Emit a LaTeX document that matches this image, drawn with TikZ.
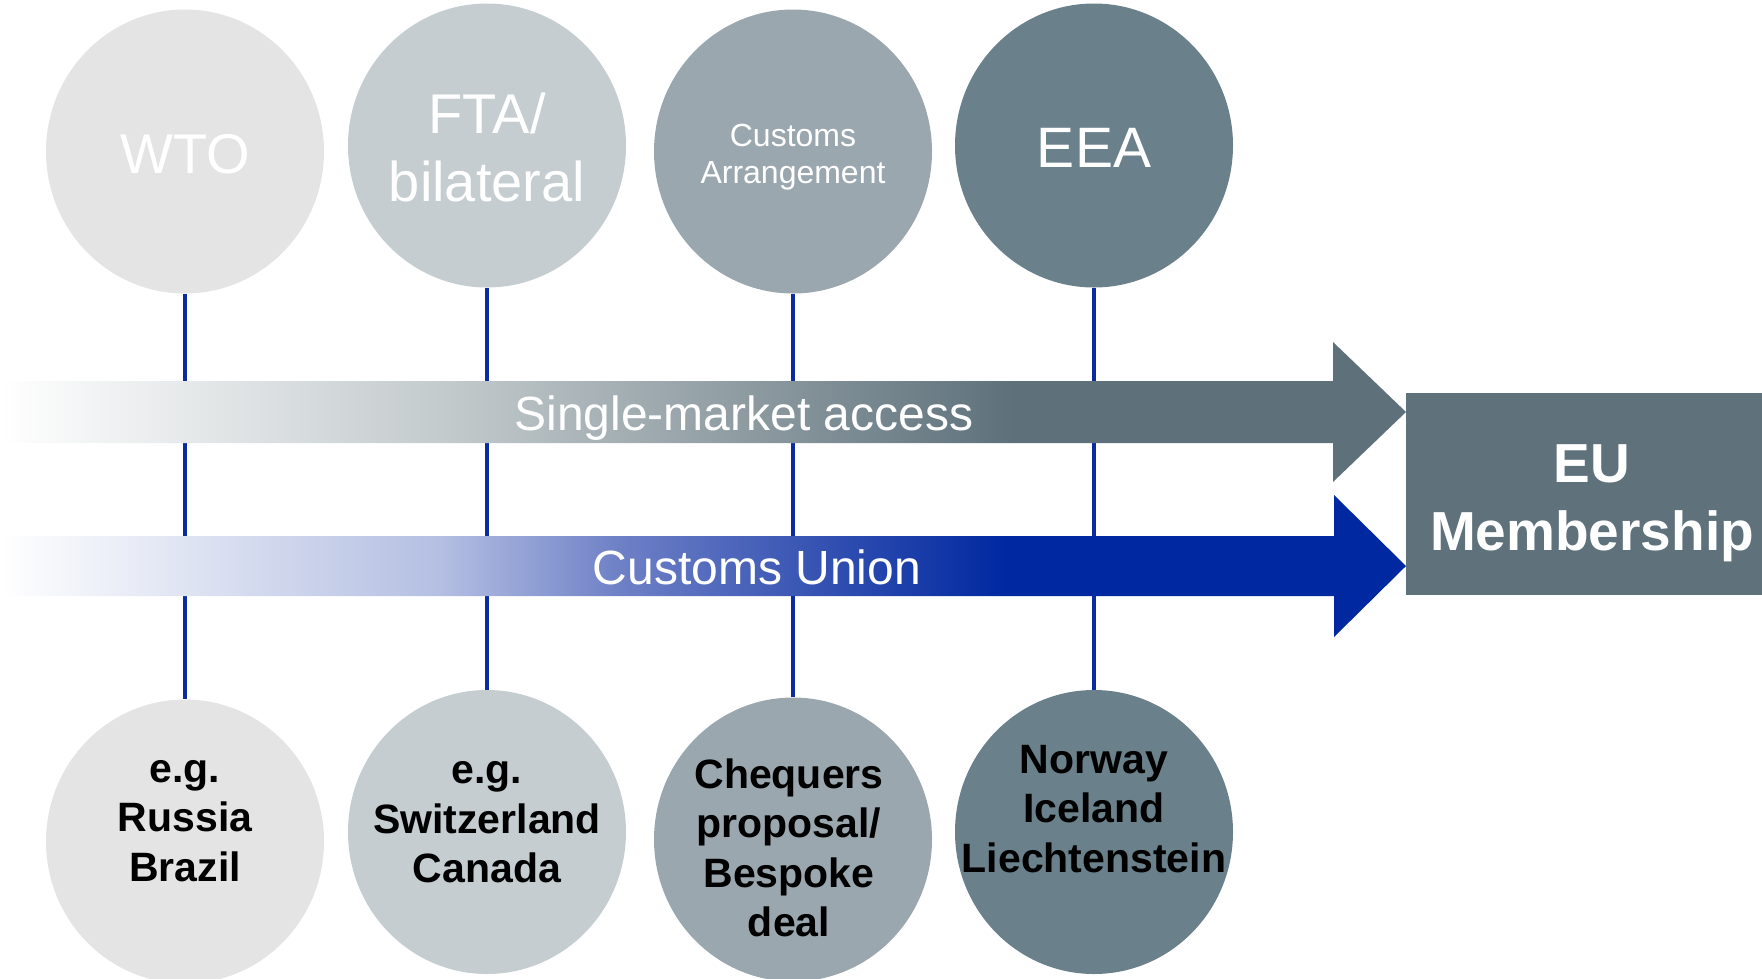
\documentclass[tikz,border=0pt]{standalone}
\usepackage{fontspec}
\setmainfont{Liberation Sans}
\usetikzlibrary{shapes.geometric}
\definecolor{cA}{HTML}{E4E4E4}
\definecolor{cB}{HTML}{C5CDD1}
\definecolor{cC}{HTML}{9BA7AE}
\definecolor{cD}{HTML}{6A808A}
\definecolor{cEU}{HTML}{5F727C}
\definecolor{smdark}{HTML}{5E717B}
\definecolor{smmid}{HTML}{C4CBCD}
\definecolor{cublue}{HTML}{0028A0}
\definecolor{cumidA}{HTML}{B4BFE2}
\definecolor{cumidB}{HTML}{6E80C6}
\definecolor{linkblue}{HTML}{0A2CA0}
\pgfdeclarehorizontalshading{smshade}{100bp}{color(0bp)=(white); color(25bp)=(white); color(40.65bp)=(smmid); color(61bp)=(smdark); color(100bp)=(smdark)}
\pgfdeclarehorizontalshading{cushade}{100bp}{color(0bp)=(white); color(25bp)=(white); color(40.65bp)=(cumidA); color(47.05bp)=(cumidB); color(60.74bp)=(cublue); color(100bp)=(cublue)}
\begin{document}
\begin{tikzpicture}[x=1pt,y=-1pt,
  bubble/.style={ellipse, minimum width=278pt, minimum height=284pt, inner sep=0pt},
  link/.style={draw=linkblue, line width=4.5pt},
  toptxt/.style={text=white, inner sep=0pt, align=center},
  bottxt/.style={text=black, inner sep=0pt, align=center, anchor=north, font=\fontsize{41}{49.5}\selectfont\bfseries},
  bartxt/.style={text=white, inner sep=0pt, anchor=base, font=\fontsize{48}{58}\selectfont}]
\useasboundingbox (0,0) rectangle (1762,978);
% top bubbles
\node[bubble, fill=cA] (t1) at (185,151.5) {};
\node[bubble, fill=cB] (t2) at (487,145.5) {};
\node[bubble, fill=cC] (t3) at (793,151.5) {};
\node[bubble, fill=cD] (t4) at (1094,145.5) {};
% bottom bubbles
\node[bubble, fill=cA] (b1) at (185,841.5) {};
\node[bubble, fill=cB] (b2) at (487,832) {};
\node[bubble, fill=cC] (b3) at (793,839.5) {};
\node[bubble, fill=cD] (b4) at (1094,832) {};
% links
\draw[link] (t1.south) -- (b1.north);
\draw[link] (t2.south) -- (b2.north);
\draw[link] (t3.south) -- (b3.north);
\draw[link] (t4.south) -- (b4.north);
% EU box
\node[fill=cEU, minimum width=364pt, minimum height=202pt, inner sep=0pt, anchor=north west] (eu) at (1406,393) {};
% arrows
\shade[shading=smshade] (0,381) -- (1333,381) -- (1333,342) -- (1406,412) -- (1333,482) -- (1333,443) -- (0,443) -- cycle;
\shade[shading=cushade] (0,536) -- (1334,536) -- (1334,495) -- (1406,566) -- (1334,637) -- (1334,596) -- (0,596) -- cycle;
\node[bartxt] (sm) at (744,430) {Single-market access};
\node[bartxt] (cu) at (757,584) {Customs Union};
% EU text
\node[text=white, inner sep=0pt, align=center, anchor=north, font=\fontsize{55}{68}\selectfont\bfseries] (eut) at (1592,434.4) {\strut EU\\Membership};
% top texts
\node[toptxt, anchor=base, font=\fontsize{56}{68}\selectfont] (wto) at (185,173) {WTO};
\node[toptxt, anchor=north, font=\fontsize{56}{68}\selectfont] (fta) at (487,85.4) {\strut FTA/\\bilateral};
\node[toptxt, anchor=north, font=\fontsize{32}{37}\selectfont] (ca) at (793,120.1) {\strut Customs\\Arrangement};
\node[toptxt, anchor=base, font=\fontsize{57}{68}\selectfont] (eea) at (1094,167) {EEA};
% bottom texts
\node[bottxt] (x1) at (185,747.35) {\strut e.g.\\Russia\\Brazil};
\node[bottxt] (x2) at (487,748.85) {\strut e.g.\\Switzerland\\Canada};
\node[bottxt] (x3) at (789,753.35) {\strut Chequers\\proposal/\\Bespoke\\deal};
\node[bottxt] (x4) at (1094,738.35) {\strut Norway\\Iceland\\Liechtenstein};
\end{tikzpicture}
\end{document}
